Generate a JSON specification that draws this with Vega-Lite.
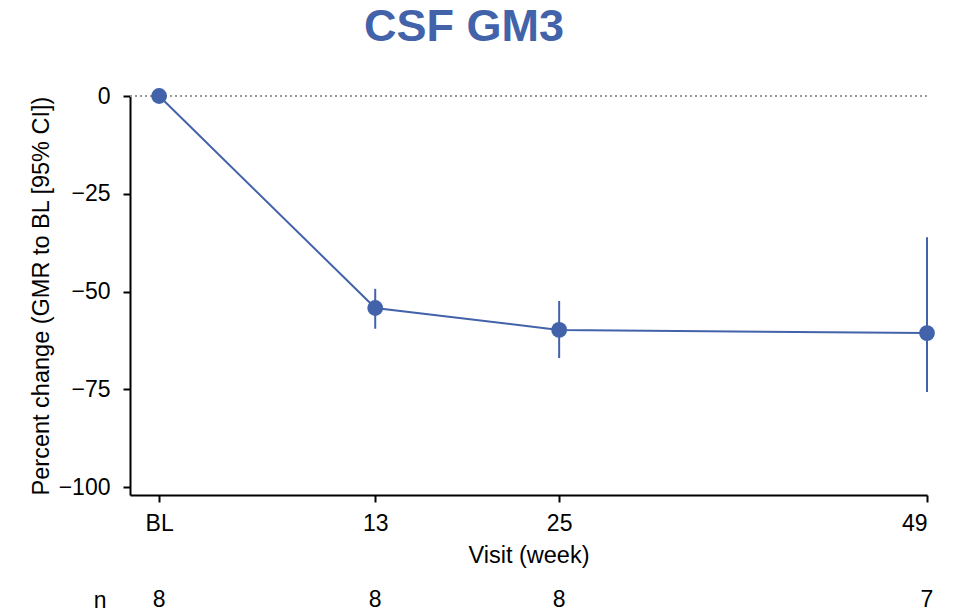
{
  "$schema": "https://vega.github.io/schema/vega-lite/v6.json",
  "padding": {"left": 29, "top": 5, "right": 5, "bottom": 0},
  "background": "white",
  "title": {"text": "CSF GM3", "fontSize": 45, "fontWeight": "bold", "color": "#4262A9", "font": "Liberation Sans", "anchor": "middle", "offset": 35, "dx": -18},
  "config": {"font": "Liberation Sans", "view": {"stroke": null}},
  "datasets": {
    "visits": [
      {"week": -1.1, "visit": "BL", "n": 8, "gmr": 0, "lo": null, "hi": null},
      {"week": 13, "visit": "13", "n": 8, "gmr": -54.2, "lo": -59.5, "hi": -49.3},
      {"week": 25, "visit": "25", "n": 8, "gmr": -59.8, "lo": -67.0, "hi": -52.4},
      {"week": 49, "visit": "49", "n": 7, "gmr": -60.6, "lo": -75.7, "hi": -36.1}
    ]
  },
  "vconcat": [
    {
      "width": 797,
      "height": 399,
      "data": {"name": "visits"},
      "encoding": {
        "x": {"field": "week", "type": "quantitative",
          "scale": {"domain": [-3, 49], "nice": false, "zero": false},
          "axis": {"values": [-1.1, 13, 25, 49], "labelExpr": "datum.value < 0 ? 'BL' : datum.label",
            "title": "Visit (week)", "grid": false, "domainColor": "black", "domainWidth": 2,
            "tickColor": "black", "tickWidth": 2, "tickSize": 7, "labelFontSize": 23, "labelColor": "black",
            "labelPadding": 10, "titleFontSize": 23.5, "titleFontWeight": "normal", "titleColor": "black", "titlePadding": 8}
        }
      },
      "layer": [
        {"mark": {"type": "rule", "color": "#999999", "strokeDash": [2, 3], "strokeWidth": 1.5},
         "encoding": {"x": null, "y": {"datum": 0, "type": "quantitative"}}},
        {"mark": {"type": "line", "color": "#4262A9", "strokeWidth": 2},
         "encoding": {
           "y": {"field": "gmr", "type": "quantitative",
             "scale": {"domain": [-102, 0], "nice": false, "zero": false},
             "axis": {"values": [0, -25, -50, -75, -100], "title": "Percent change (GMR to BL [95% CI])",
               "grid": false, "domainColor": "black", "domainWidth": 2, "tickColor": "black", "tickWidth": 2,
               "tickSize": 7, "labelFontSize": 23, "labelColor": "black", "labelPadding": 13,
               "titleFontSize": 23.5, "titleFontWeight": "normal", "titleColor": "black", "titlePadding": 5}
           }
         }},
        {"mark": {"type": "rule", "color": "#4262A9", "strokeWidth": 2},
         "encoding": {"y": {"field": "lo", "type": "quantitative"}, "y2": {"field": "hi"}}},
        {"mark": {"type": "point", "filled": true, "color": "#4262A9", "size": 250, "opacity": 1},
         "encoding": {"y": {"field": "gmr", "type": "quantitative"}}}
      ]
    },
    {
      "width": 797,
      "height": 20,
      "data": {"name": "visits"},
      "mark": {"type": "text", "fontSize": 23, "color": "black"},
      "encoding": {
        "x": {"field": "week", "type": "quantitative", "axis": null},
        "y": {"datum": "n", "type": "nominal",
          "axis": {"title": null, "domain": false, "ticks": false, "labelFontSize": 23, "labelColor": "black", "labelPadding": 24}},
        "text": {"field": "n", "type": "quantitative"}
      }
    }
  ],
  "spacing": 22,
  "resolve": {"scale": {"x": "shared"}}
}
